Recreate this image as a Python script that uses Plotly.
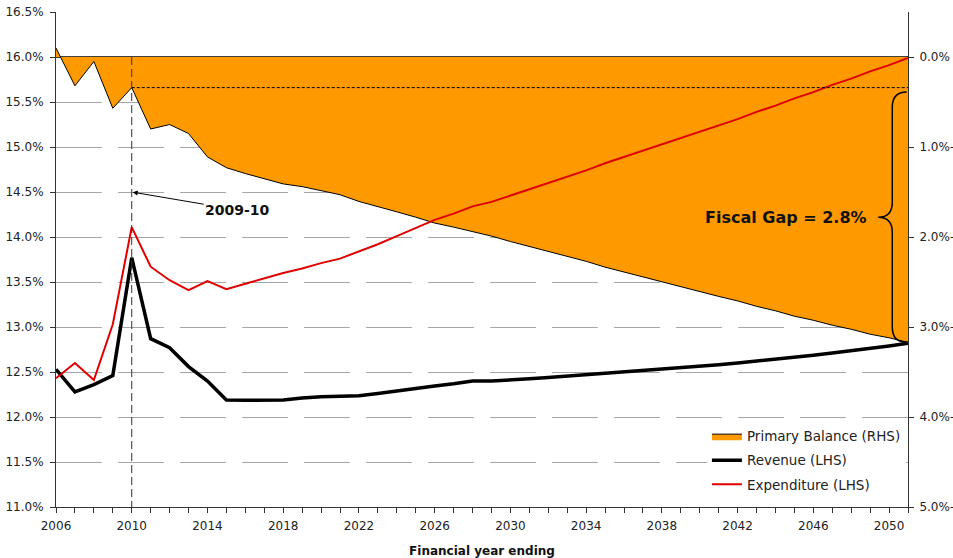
import plotly.graph_objects as go

years = list(range(2006, 2052))

revenue = [12.53, 12.28, 12.36, 12.46, 13.77, 12.87, 12.77, 12.56, 12.40, 12.19,
           12.185, 12.185, 12.19, 12.21, 12.225, 12.23, 12.235, 12.26, 12.29, 12.32,
           12.345, 12.37, 12.40, 12.40, 12.41, 12.425, 12.44, 12.455, 12.47, 12.485,
           12.50, 12.515, 12.53, 12.545, 12.56, 12.58, 12.60, 12.62, 12.64, 12.66,
           12.685, 12.71, 12.735, 12.76, 12.79, 12.82]

expenditure = [12.43, 12.60, 12.41, 13.03, 14.11, 13.67, 13.52, 13.41, 13.51, 13.42,
               13.48, 13.54, 13.60, 13.65, 13.71, 13.76, 13.84, 13.92, 14.01, 14.10,
               14.19, 14.26, 14.34, 14.39, 14.46, 14.53, 14.60, 14.67, 14.74, 14.82,
               14.89, 14.96, 15.03, 15.10, 15.17, 15.24, 15.31, 15.39, 15.46, 15.54,
               15.61, 15.69, 15.76, 15.84, 15.91, 15.99]

primary_balance = [0.10, -0.32, -0.05, -0.57, -0.34, -0.80, -0.75, -0.85, -1.11, -1.23,
                   -1.295, -1.355, -1.41, -1.44, -1.485, -1.53, -1.605, -1.66, -1.72, -1.78,
                   -1.845, -1.89, -1.94, -1.99, -2.05, -2.105, -2.16, -2.215, -2.27, -2.335,
                   -2.39, -2.445, -2.50, -2.555, -2.61, -2.66, -2.71, -2.77, -2.82, -2.88,
                   -2.925, -2.98, -3.025, -3.08, -3.12, -3.17]

rhs_tickvals = [0, -1, -2, -3, -4, -5]
rhs_ticktext = ["0.0%", "1.0%-", "2.0%-", "3.0%-", "4.0%-", "5.0%-"]
lhs_tickvals = [11.0, 11.5, 12.0, 12.5, 13.0, 13.5, 14.0, 14.5, 15.0, 15.5, 16.0, 16.5]
lhs_ticktext = ["11.0%", "11.5%", "12.0%", "12.5%", "13.0%", "13.5%", "14.0%",
                "14.5%", "15.0%", "15.5%", "16.0%", "16.5%"]

ref_year = 2010
fiscal_gap_label = "Fiscal Gap = 2.8%"
ref_label = "2009-10"

FONT = "Verdana, DejaVu Sans, sans-serif"
TXT = "#222222"

fig = go.Figure()

fig.add_trace(go.Scatter(
    x=years, y=primary_balance, name="Primary Balance (RHS)", yaxis="y",
    mode="lines", line=dict(color="black", width=1), fill="tozeroy",
    fillcolor="#FF9900", legendgroup="a"))
fig.add_trace(go.Scatter(
    x=years, y=revenue, name="Revenue (LHS)", yaxis="y2",
    mode="lines", line=dict(color="black", width=3.5), legendgroup="b"))
fig.add_trace(go.Scatter(
    x=years, y=expenditure, name="Expenditure (LHS)", yaxis="y2",
    mode="lines", line=dict(color="#E00000", width=2), legendgroup="c"))

i_ref = years.index(ref_year)
bal_ref = primary_balance[i_ref]
bal_end = primary_balance[-1]
x_end = years[-1]

shapes = []
# vertical dashed line at 2009-10
shapes.append(dict(type="line", xref="x", yref="y", x0=ref_year, x1=ref_year,
                   y0=0, y1=-5, line=dict(color="#333333", width=1, dash="8px,4px"),
                   layer="above"))
# horizontal dotted line at 2009-10 primary balance
shapes.append(dict(type="line", xref="x", yref="y", x0=ref_year, x1=x_end,
                   y0=bal_ref, y1=bal_ref, line=dict(color="black", width=1, dash="3px,2px"),
                   layer="above"))
# curly brace
top = bal_ref - 0.05
bot = bal_end
mid = (top + bot) / 2
xe = x_end - 0.07
xs = x_end - 0.83
xt = x_end - 1.57
r = 0.17
path = (f"M {xe},{top} Q {xs},{top} {xs},{top - r} "
        f"L {xs},{mid + r} Q {xs},{mid} {xt},{mid} "
        f"Q {xs},{mid} {xs},{mid - r} "
        f"L {xs},{bot + r} Q {xs},{bot} {xe},{bot}")
shapes.append(dict(type="path", xref="x", yref="y", path=path,
                   line=dict(color="black", width=1.5), layer="above"))

annotations = [
    dict(x=ref_year, y=14.5, xref="x", yref="y2", text=f"<b>{ref_label}</b>",
         showarrow=True, ax=106, ay=18, arrowhead=2, arrowsize=1, arrowwidth=1,
         arrowcolor="black", standoff=1, font=dict(family=FONT, size=14, color="#111111")),
    dict(x=xt - 0.5, y=mid, xref="x", yref="y", text=f"<b>{fiscal_gap_label}</b>",
         showarrow=False, xanchor="right", yanchor="middle",
         font=dict(family=FONT, size=16, color="#111111")),
]

fig.update_layout(
    width=953, height=558,
    margin=dict(l=56, r=45, t=12, b=51, autoexpand=False),
    plot_bgcolor="white", paper_bgcolor="white",
    font=dict(family=FONT, size=12, color=TXT),
    showlegend=True,
    legend=dict(x=0.764, y=0.174, xanchor="left", yanchor="top",
                bgcolor="white", borderwidth=0, traceorder="grouped",
                tracegroupgap=3.5, font=dict(family=FONT, size=13.5, color=TXT)),
    xaxis=dict(range=[2006, 2051], tick0=2006, dtick=4, ticks="outside", ticklen=5,
               tickcolor="#333333", showline=True, linecolor="#333333", linewidth=1,
               showgrid=False, zeroline=False, automargin=False, ticklabelstandoff=3,
               minor=dict(dtick=1, ticks="outside", ticklen=5, tickcolor="#333333", showgrid=False),
               title=dict(text="<b>Financial year ending</b>", standoff=14,
                          font=dict(family=FONT, size=12, color="#111111")),
               tickfont=dict(family=FONT, size=12, color=TXT)),
    yaxis=dict(side="right", range=[-5, 0.5], tickvals=rhs_tickvals, ticktext=rhs_ticktext,
               ticks="outside", ticklen=5, tickcolor="#333333", showline=True,
               linecolor="#333333", linewidth=1, showgrid=False, automargin=False,
               ticklabelstandoff=3,
               zeroline=True, zerolinecolor="#404040", zerolinewidth=1.5,
               tickfont=dict(family=FONT, size=12, color=TXT)),
    yaxis2=dict(side="left", overlaying="y", range=[11, 16.5], tickvals=lhs_tickvals,
                ticktext=lhs_ticktext, ticks="outside", ticklen=5, tickcolor="#333333",
                showline=True, linecolor="#333333", linewidth=1, automargin=False,
                ticklabelstandoff=4,
                showgrid=True, gridcolor="#A6A6A6", gridwidth=1, griddash="46px,16px",
                zeroline=False, tickfont=dict(family=FONT, size=12, color=TXT)),
    shapes=shapes,
    annotations=annotations,
)

fig.write_html("out.html")
